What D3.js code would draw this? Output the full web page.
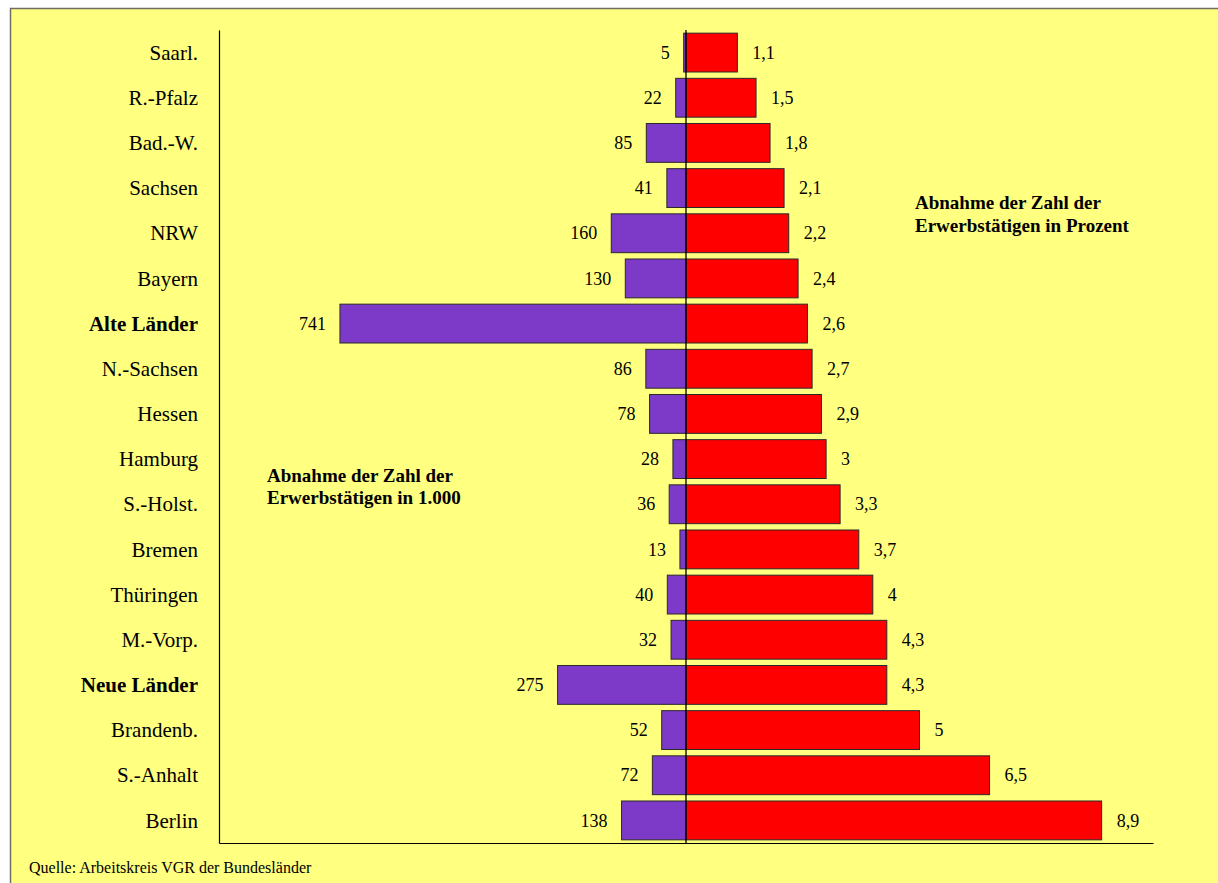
<!DOCTYPE html>
<html>
<head>
<meta charset="utf-8">
<script src="https://cdn.jsdelivr.net/npm/d3@7"></script>
<style>
  html, body { margin: 0; padding: 0; background: #ffffff; }
  svg { display: block; }
  text { font-family: "Liberation Serif", "Times New Roman", serif; fill: #000; }
</style>
</head>
<body>
<script>
// ---- Data ----
const categories = ["Saarl.", "R.-Pfalz", "Bad.-W.", "Sachsen", "NRW", "Bayern", "Alte Länder",
  "N.-Sachsen", "Hessen", "Hamburg", "S.-Holst.", "Bremen", "Thüringen", "M.-Vorp.",
  "Neue Länder", "Brandenb.", "S.-Anhalt", "Berlin"];
const declineThousands = [5, 22, 85, 41, 160, 130, 741, 86, 78, 28, 36, 13, 40, 32, 275, 52, 72, 138];
const declinePercent = [1.1, 1.5, 1.8, 2.1, 2.2, 2.4, 2.6, 2.7, 2.9, 3, 3.3, 3.7, 4, 4.3, 4.3, 5, 6.5, 8.9];
const boldCategories = ["Alte Länder", "Neue Länder"];
const labelPercent = ["Abnahme der Zahl der", "Erwerbstätigen in Prozent"];
const labelThousands = ["Abnahme der Zahl der", "Erwerbstätigen in 1.000"];
const sourceText = "Quelle: Arbeitskreis VGR der Bundesländer";

const W = 1218, H = 883;
const svg = d3.select("body").append("svg").attr("width", W).attr("height", H);

// frame
svg.append("rect").attr("x", 10.5).attr("y", 8.5).attr("width", W + 20).attr("height", H + 20)
  .attr("fill", "#ffff80").attr("stroke", "#6e6e60").attr("stroke-width", 1.5);

const x = d3.scaleLinear().domain([-10, 10]).range([219, 1153]);
const y = d3.scaleBand().domain(categories).range([30, 843]).paddingInner(0.14).paddingOuter(0.07);

const fmt = d3.formatLocale({decimal: ",", thousands: ".", grouping: [3], currency: ["", "€"]}).format("~g");

const rows = categories.map((c, i) => ({c, t: declineThousands[i], p: declinePercent[i]}));

// purple bars (thousands / 100 on the same axis)
svg.append("g").selectAll("rect").data(rows).join("rect")
  .attr("x", d => x(-d.t / 100)).attr("y", d => y(d.c))
  .attr("width", d => x(0) - x(-d.t / 100)).attr("height", y.bandwidth())
  .attr("fill", "#7d3ac9").attr("stroke", "#2a2a2a").attr("stroke-width", 1);

// red bars
svg.append("g").selectAll("rect").data(rows).join("rect")
  .attr("x", x(0)).attr("y", d => y(d.c))
  .attr("width", d => x(d.p) - x(0)).attr("height", y.bandwidth())
  .attr("fill", "#ff0000").attr("stroke", "#2a2a2a").attr("stroke-width", 1);

// axes lines
const axisLeft = d3.axisLeft(y).tickSize(0).tickFormat("");
const gL = svg.append("g").attr("transform", `translate(${x(-10)},0)`).call(axisLeft);
gL.select(".domain").attr("stroke", "#000").attr("stroke-width", 1.2);
const axisBottom = d3.axisBottom(x).tickValues([]).tickSizeOuter(0);
const gB = svg.append("g").attr("transform", `translate(0,843)`).call(axisBottom);
gB.select(".domain").attr("stroke", "#000").attr("stroke-width", 1.2);

// zero line
svg.append("line").attr("x1", x(0)).attr("x2", x(0)).attr("y1", 30).attr("y2", 843)
  .attr("stroke", "#000").attr("stroke-width", 1.3);

// category labels
svg.append("g").selectAll("text").data(rows).join("text")
  .attr("x", 198).attr("y", d => y(d.c) + y.bandwidth() / 2).attr("dy", "0.34em")
  .attr("text-anchor", "end").style("font-size", "21px")
  .style("font-weight", d => boldCategories.includes(d.c) ? "bold" : "normal")
  .text(d => d.c);

// value labels
svg.append("g").selectAll("text").data(rows).join("text")
  .attr("x", d => x(-d.t / 100) - 14).attr("y", d => y(d.c) + y.bandwidth() / 2).attr("dy", "0.34em")
  .attr("text-anchor", "end").style("font-size", "18px")
  .text(d => d.t);
svg.append("g").selectAll("text").data(rows).join("text")
  .attr("x", d => x(d.p) + 15).attr("y", d => y(d.c) + y.bandwidth() / 2).attr("dy", "0.34em")
  .attr("text-anchor", "start").style("font-size", "18px")
  .text(d => fmt(d.p));

// annotations
const a1 = svg.append("text").attr("x", 915).attr("y", 209).style("font-size", "19px").style("font-weight", "bold");
labelPercent.forEach((t, i) => a1.append("tspan").attr("x", 915).attr("dy", i ? 23 : 0).text(t));
const a2 = svg.append("text").attr("x", 267).attr("y", 482).style("font-size", "19px").style("font-weight", "bold");
labelThousands.forEach((t, i) => a2.append("tspan").attr("x", 267).attr("dy", i ? 22 : 0).text(t));

svg.append("text").attr("x", 29).attr("y", 873).style("font-size", "16px").text(sourceText);
</script>
</body>
</html>
